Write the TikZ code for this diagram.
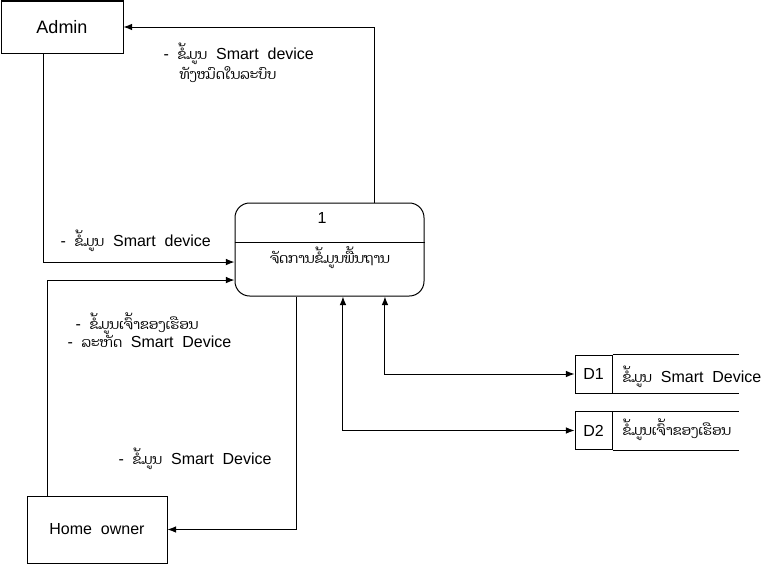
\documentclass[tikz,border=0pt]{standalone}
\usepackage{fontspec}
\setmainfont{Liberation Sans}
\newfontfamily\laofont[Script=Lao,Scale=0.86]{Dhyana}
\newcommand{\lo}[1]{{\laofont #1}}
\usetikzlibrary{arrows.meta}

\begin{document}
\begin{tikzpicture}[x=0.75pt,y=-0.75pt,line width=0.75pt,
  every node/.style={font=\fontsize{12pt}{15pt}\selectfont},
  entity/.style={draw,rectangle,inner sep=0pt},
  process/.style={draw,rectangle,rounded corners=11pt,minimum width=141.75pt,minimum height=69.75pt,inner sep=0pt},
  storeid/.style={draw,rectangle,minimum width=27.75pt,minimum height=28.5pt,inner sep=0pt},
  flow/.style={-{Latex[length=6.5pt,width=5pt]}},
  dflow/.style={{Latex[length=6.5pt,width=5pt]}-{Latex[length=6.5pt,width=5pt]}},
  lbl/.style={anchor=west,inner sep=0pt,align=left}]
\useasboundingbox (0,0) rectangle (771,564);
\node [entity,minimum width=91.5pt,minimum height=39pt,font=\fontsize{13.5pt}{16pt}\selectfont] (admin) at (62,27) {Admin};
\node [process] (proc) at (329.5,249.5) {};
\node (procid) at (322,218) {1};
\node (procname) at (330,258) {\lo{ຈັດການຂໍ້ມູນພື້ນຖານ}};
\draw ([yshift=5.6pt]proc.west) -- ([yshift=5.6pt]proc.east);
\node [entity,minimum width=105pt,minimum height=50.25pt] (home) at (97,529.5) {Home~~owner};
\node [storeid] (d1) at (593.5,374) {D1};
\draw (d1.north east) -- ++(126,0);
\draw (d1.south east) -- ++(126,0);
\node [lbl] (d1name) at (622,377) {\lo{ຂໍ້ມູນ}~~Smart~~Device};
\node [storeid] (d2) at (593.5,430.5) {D2};
\draw (d2.north east) -- ++(126,0);
\draw (d2.south east) -- ++(126,0);
\node [lbl] (d2name) at (622,430) {\lo{ຂໍ້ມູນເຈົ້າຂອງເຮືອນ}};
\draw [flow] ([xshift=34.1pt]proc.north) |- (admin.east);
\draw [flow] ([xshift=-14.25pt]admin.south) |- ([yshift=-9.4pt]proc.west);
\draw [flow] ([xshift=-37.5pt]home.north) |- ([yshift=-22.9pt]proc.west);
\draw [flow] ([xshift=-24.4pt]proc.south) |- (home.east);
\draw [dflow] ([xshift=41.6pt]proc.south) |- (d1.west);
\draw [dflow] ([xshift=10.1pt]proc.south) |- (d2.west);
\node [lbl] (allinfo) at (163,62.5) {-~~\lo{ຂໍ້ມູນ}~~Smart~~device\\\hspace*{12pt}\lo{ທັງໝົດໃນລະບົບ}};
\node [lbl] (devinfo) at (60,241) {-~~\lo{ຂໍ້ມູນ}~~Smart~~device};
\node [lbl,font=\fontsize{12pt}{13.5pt}\selectfont] (ownerinfo) at (67,330) {\hspace*{6pt}-~~\lo{ຂໍ້ມູນເຈົ້າຂອງເຮືອນ}\\-~~\lo{ລະຫັດ}~~Smart~~Device};
\node [lbl] (homeinfo) at (118,459) {-~~\lo{ຂໍ້ມູນ}~~Smart~~Device};
\end{tikzpicture}
\end{document}
